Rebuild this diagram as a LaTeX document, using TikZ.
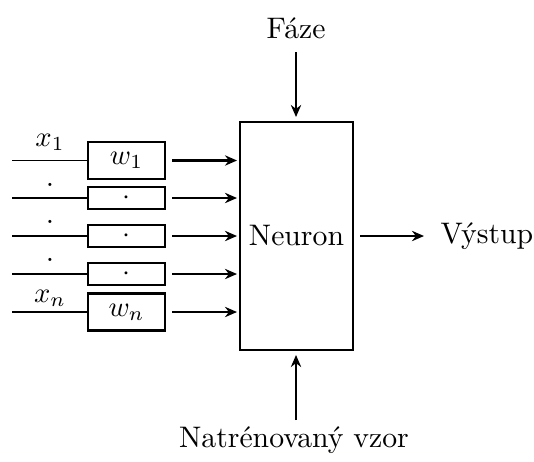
\documentclass[tikz,border=0pt]{standalone}
\usetikzlibrary{arrows.meta}
\begin{document}
\begin{tikzpicture}[x=0.35pt,y=-0.35pt,font=\fontsize{10.4}{12.5}\selectfont,
  arr/.style={thick,-{Stealth[length=4.2pt,width=3.6pt]}},
  wbig/.style={draw,thick,minimum width=26.95pt,minimum height=12.95pt,inner sep=0pt},
  wsmall/.style={draw,thick,minimum width=26.95pt,minimum height=7.7pt,inner sep=0pt},
  inl/.style={thin},
  lab/.style={inner sep=0pt}]
\useasboundingbox (0,0) rectangle (534,461);
\node[draw,thick,minimum width=39.55pt,minimum height=79.8pt,inner sep=0pt] (neuron) at (296.5,236) {Neuron};
\node[lab] (faze) at (296,28) {F\'aze};
\node[lab,anchor=west] (out) at (440,236) {V\'ystup};
\node[lab] (vzor) at (294,440) {Natr\'enovan\'y vzor};
% weights
\node[wbig] (w1) at (126.5,160.5) {$w_1$};
\node[wsmall] (w2) at (126.5,198) {$\cdot$};
\node[wsmall] (w3) at (126.5,236) {$\cdot$};
\node[wsmall] (w4) at (126.5,274) {$\cdot$};
\node[wbig] (w5) at (126.5,312) {$w_n$};
\foreach \i/\y in {1/160.5,2/198,3/236,4/274,5/312}{
  \coordinate (s\i) at (12,\y);
  \coordinate (t\i) at (237,\y);
  \draw[inl] (s\i) -- (w\i.west);
  \draw[arr,shorten <=2.1pt] (w\i.east) -- (t\i);
}
\node[lab] (x1) at (50,142) {$x_1$};
\node[lab] (d1) at (50,185) {.};
\node[lab] (d2) at (50,222) {.};
\node[lab] (d3) at (50,260) {.};
\node[lab] (xn) at (50,298) {$x_n$};
\coordinate (ft) at (296,52);
\coordinate (fb) at (296,117);
\draw[arr] (ft) -- (fb);
\coordinate (bt) at (296,420);
\coordinate (bb) at (296,355);
\draw[arr] (bt) -- (bb);
\draw[arr,shorten <=2.1pt,shorten >=5.6pt] (neuron.east) -- (out.west);
\end{tikzpicture}
\end{document}
